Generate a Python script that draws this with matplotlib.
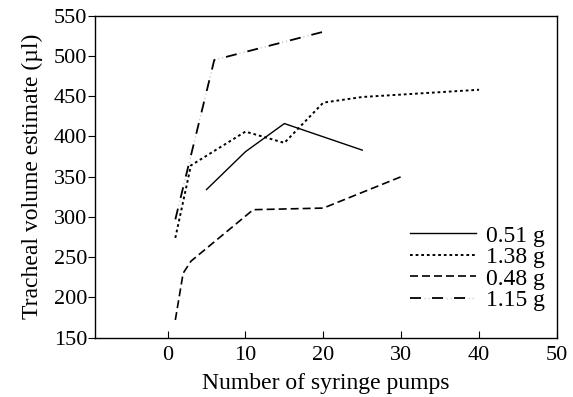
import matplotlib
matplotlib.use("Agg")
import matplotlib.pyplot as plt

plt.rcParams['font.family'] = ['Liberation Serif', 'DejaVu Serif']

x_051 = [5, 10, 15, 25]
y_051 = [334, 381, 416, 383]

x_138 = [1, 3, 10, 15, 20, 25, 40]
y_138 = [274, 364, 406, 392, 442, 449, 458]

x_048 = [1, 2, 3, 11, 20, 30]
y_048 = [172, 230, 245, 309, 311, 350]

x_115 = [1, 6, 20]
y_115 = [297, 495, 530]

labels = ["0.51 g", "1.38 g", "0.48 g", "1.15 g"]
xticks = [0, 10, 20, 30, 40, 50]
yticks = [150, 200, 250, 300, 350, 400, 450, 500, 550]

fig = plt.figure(figsize=(5.73, 3.97), dpi=100)
ax = fig.add_axes([0.166, 0.1494, 0.806, 0.8111])

l1, = ax.plot(x_051, y_051, color='black', lw=1.0, linestyle='-')
l2, = ax.plot(x_138, y_138, color='black', lw=1.4, linestyle=(0, (1.4, 1.5)))
l3, = ax.plot(x_048, y_048, color='black', lw=1.2, linestyle=(0, (4.8, 2.4)))
g4, = ax.plot(x_115, y_115, color='#c4c4c4', lw=1.0,
              linestyle=(5.74, (0.8, 2.2, 0.8, 12.04)))
l4, = ax.plot(x_115, y_115, color='black', lw=1.3, linestyle=(0, (6.1, 6.1)))

ax.set_xlim(-9.3, 50)
ax.set_ylim(150, 550)
ax.set_xticks(xticks)
ax.set_yticks(yticks)
ax.tick_params(axis='x', direction='in', length=5, labelsize=16, pad=6)
ax.tick_params(axis='y', direction='out', length=5, labelsize=16, pad=0.5)
for s in ax.spines.values():
    s.set_linewidth(1.0)

ax.set_xlabel("Number of syringe pumps", fontsize=17, labelpad=6)
ax.set_ylabel("Tracheal volume estimate (\u00b5l)", fontsize=17, labelpad=8)

leg = ax.legend(handles=[l1, l2, l3, (g4, l4)], labels=labels,
                loc='lower right', bbox_to_anchor=(1.004, 0.038), frameon=False,
                fontsize=17, handlelength=2.8, handletextpad=0.4,
                labelspacing=0.0, borderaxespad=0.2)

fig.savefig("out.png", dpi=100)
